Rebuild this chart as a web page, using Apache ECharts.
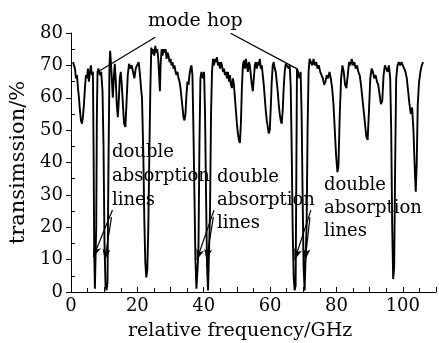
<!DOCTYPE html>
<html><head><meta charset="utf-8">
<script src="https://cdn.jsdelivr.net/npm/echarts@6/dist/echarts.min.js"></script>
<style>html,body{margin:0;padding:0;background:#fff}#c{width:439px;height:343px}</style>
</head><body><div id="c"></div>
<script>
// relative frequency (GHz)
const freq = [
0.6,0.9,1.2,1.5,1.8,2.1,2.4,2.7,3.0,3.3,3.6,3.9,4.2,4.5,4.8,5.1,5.4,5.7,6.0,6.3,6.6,6.8,7.0,7.2,7.4,7.6,7.8,8.0,
8.3,8.7,9.1,9.5,9.8,10.1,10.4,10.7,11.0,11.3,11.6,11.8,
12.2,12.6,12.9,13.2,13.5,13.8,14.1,14.4,14.7,15.0,15.3,15.7,16.0,16.4,16.8,17.1,17.5,17.9,18.3,18.7,19.1,19.5,19.9,20.4,20.8,21.1,21.4,21.8,22.1,22.4,22.7,23.0,23.3,23.6,23.9,24.2,24.5,
24.8,25.1,25.4,25.7,26.0,26.3,26.6,26.8,27.0,27.3,27.6,27.9,28.2,28.5,28.8,29.1,29.4,29.7,30.0,30.3,30.6,30.9,31.2,31.5,31.8,32.1,32.4,32.7,33.0,33.3,33.6,33.9,34.2,34.5,34.8,35.1,35.4,35.7,36.0,36.3,36.6,
36.9,37.2,37.5,37.8,38.1,38.4,38.7,39.0,39.3,39.7,40.1,40.4,40.7,41.0,41.3,41.6,41.9,42.2,42.5,42.8,
43.1,43.4,43.7,44.0,44.3,44.6,44.9,45.2,45.5,45.8,46.1,46.4,46.7,47.0,47.3,47.6,47.9,48.2,48.5,48.8,49.1,49.4,49.7,50.0,50.3,50.6,50.9,51.2,51.5,51.8,52.1,52.4,52.7,53.0,53.3,53.6,53.9,54.2,54.5,54.8,55.1,55.4,55.7,56.0,56.3,56.6,56.9,57.2,57.5,57.8,58.1,58.4,58.7,59.0,59.3,59.6,59.9,60.2,60.5,60.8,61.1,61.4,61.7,62.0,62.3,62.6,62.9,63.2,63.5,63.8,64.1,64.4,64.7,65.0,65.3,65.6,65.9,
66.2,66.5,66.8,67.1,67.4,67.7,67.9,68.1,68.4,68.8,69.2,69.5,69.8,70.1,70.4,70.7,71.0,71.3,71.6,71.9,
72.3,72.7,73.1,73.5,73.9,74.3,74.7,75.1,75.5,75.9,76.3,76.7,77.1,77.5,77.9,78.3,78.7,79.1,79.5,79.9,80.3,80.6,81.0,81.4,81.8,82.2,82.6,83.0,83.4,83.8,84.2,84.6,85.0,85.4,85.8,86.2,86.6,87.0,87.4,87.8,88.2,88.6,89.0,89.4,89.8,90.2,90.6,91.0,91.4,91.8,92.2,92.6,93.0,93.4,93.8,94.2,94.6,95.0,95.4,95.8,96.2,96.5,96.8,97.1,97.4,97.7,98.0,98.4,98.8,99.2,99.6,100.0,100.4,100.8,101.2,101.6,102.0,102.4,102.8,103.2,103.6,103.9,104.2,104.5,104.9,105.3,105.7,106.1
];
// transmission (%)
const trans = [
71,70,69,66,67,63,60,56,53,52,54,58,63,67,66,69,65,68,70,67,68,45,12,1,0.5,20,55,68,
69,67,68,62,45,15,2,0.5,3,40,70,74.5,
68,60,66,70.5,65,58,54,59,66,68,64,57,52,51,60,67,70.5,69,70,68,66,69,70,71,67,63,60,42,22,9,4.5,7,20,42,62,75.5,73.5,
75,73,76,74,75,72,66,62,70,75,73,75,74,75,72,74,73,71,72,70,71,69,70,68,67,68,66,65,63,60,57,54,53,55,61,65,64,67,69,70,67,
50,30,10,1,0.5,12,45,66,68,66,68,55,30,8,0.5,1,25,55,68,72,
70,72,71,72.5,70,71,69,71,70,68,69,67,68,66,68,65,67,64,63,66,64,60,56,52,49,47,46,52,63,70,71.5,69,72,70,68,71,70,67,64,62,66,70,71,69,71,70,72,69,70,67,64,60,56,53,51,49,50,57,65,70,71,69,68,65,62,58,55,53,52,56,63,68,70.5,70,71,69,70,
64,45,20,5,0.5,2,35,69,68,66,68,55,30,8,0.5,1,20,50,68,72,
71,70,72,70,71,69,70,68,67,66,64,65,67,66,68,66,63,58,50,42,37,39,55,66,70,68,64,63,67,71,70,72,70,71,69,70,68,67,64,60,56,52,48,47,56,66,69,68,66,67,65,64,61,58,59,67,70,69,68,70,66,50,20,4,8,40,66,70,71,70,71,70,69,68,66,62,58,55,57,50,38,31,40,58,65,68,70,71
];
const xTickLabels = [0, 20, 40, 60, 80, 100];
const yTickLabels = [0, 10, 20, 30, 40, 50, 60, 70, 80];
// annotation guide lines in data coordinates [freq, trans]
const modeHopStart = [[7.9, 67.9], [48.1, 79.9]];
const modeHopEnd = [[25.4, 78.7], [68.0, 69.0]];
const arrowTail = [[12.5, 25.3], [12.2, 23.1], [43.1, 25.3], [42.9, 23.1], [72.3, 25.3], [72.0, 23.1]];
const arrowHead = [[6.7, 10.8], [10.2, 9.9], [37.9, 9.9], [40.8, 9.9], [67.4, 9.9], [70.6, 9.9]];

const FONT = '"DejaVu Serif", serif';
const data = freq.map((f, i) => [f, trans[i]]);
const lines = [];
modeHopStart.forEach((s, i) => lines.push([{coord: s, symbol: 'none'}, {coord: modeHopEnd[i], symbol: 'none'}]));
arrowTail.forEach((s, i) => lines.push([{coord: s, symbol: 'none'}, {coord: arrowHead[i], symbol: 'arrow', symbolSize: [6, 11]}]));

const chart = echarts.init(document.getElementById('c'));
chart.setOption({
  backgroundColor: '#fff',
  animation: false,
  grid: {left: 70, top: 33, right: -8, bottom: 51},
  xAxis: [{
    type: 'value', min: 0, max: 110, interval: 10,
    axisLine: {lineStyle: {color: '#000', width: 1}},
    axisTick: {inside: true, length: 5, lineStyle: {color: '#000'}},
    minorTick: {show: true, splitNumber: 2, length: 4, lineStyle: {color: '#000'}},
    splitLine: {show: false},
    axisLabel: {color: '#000', fontFamily: FONT, fontSize: 18, margin: 5,
      formatter: v => xTickLabels.includes(v) ? String(v) : ''}
  }],
  yAxis: [{
    type: 'value', min: 0, max: 80, interval: 10,
    name: 'transimssion/%', nameLocation: 'middle', nameGap: 42,
    nameTextStyle: {color: '#000', fontFamily: FONT, fontSize: 21},
    axisLine: {show: true, lineStyle: {color: '#000', width: 1}},
    axisTick: {show: true, length: 5, lineStyle: {color: '#000'}},
    splitLine: {show: false},
    axisLabel: {color: '#000', fontFamily: FONT, fontSize: 18, margin: 8,
      formatter: v => yTickLabels.includes(v) ? String(v) : ''}
  }, {
    type: 'value', min: 0, max: 80, interval: 10, position: 'left',
    axisLine: {show: false},
    axisTick: {show: true, inside: true, length: 0.01, lineStyle: {color: '#fff', width: 0}},
    minorTick: {show: true, splitNumber: 2, length: 4, lineStyle: {color: '#000'}},
    axisLabel: {show: false}, splitLine: {show: false}
  }],
  series: [{
    type: 'line', data: data, showSymbol: false, symbol: 'none',
    lineStyle: {color: '#000', width: 1.9}, silent: true,
    markLine: {silent: true, symbol: 'none', label: {show: false},
      lineStyle: {color: '#000', width: 1.2, type: 'solid'}, data: lines}
  }],
  graphic: [
    {type: 'text', left: 148, top: 12, style: {text: 'mode hop', font: '19px ' + FONT, fill: '#000'}},
    {type: 'text', left: 112, top: 140, style: {text: 'double\nabsorption\nlines', font: '18px ' + FONT, fill: '#000', lineHeight: 24}},
    {type: 'text', left: 217, top: 166, style: {text: 'double\nabsorption\nlines', font: '18px ' + FONT, fill: '#000', lineHeight: 23}},
    {type: 'text', left: 324, top: 174, style: {text: 'double\nabsorption\nlines', font: '18px ' + FONT, fill: '#000', lineHeight: 23}},
    {type: 'text', left: 128, top: 322, style: {text: 'relative frequency/GHz', font: '19px ' + FONT, fill: '#000'}}
  ]
});
</script></body></html>
